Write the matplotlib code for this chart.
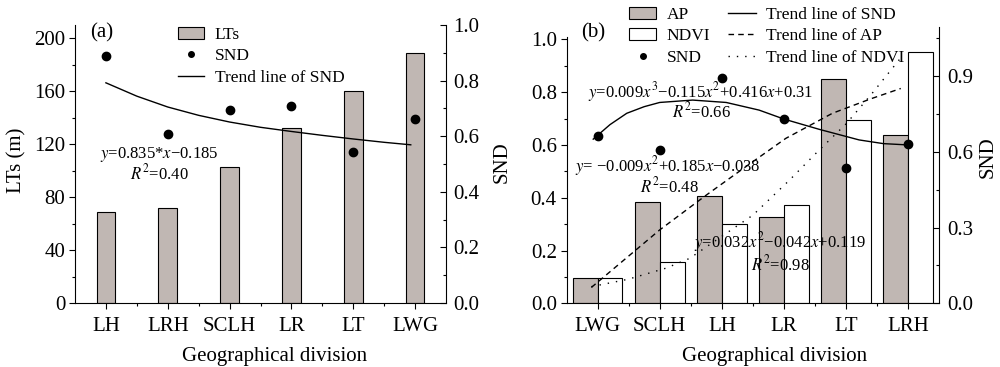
import numpy as np
import matplotlib
matplotlib.use('Agg')
import matplotlib.pyplot as plt
from matplotlib.patches import Patch
from matplotlib.lines import Line2D
from matplotlib.ticker import MultipleLocator, FixedLocator

plt.rcParams['font.family'] = ['Liberation Serif', 'DejaVu Serif']
plt.rcParams['mathtext.fontset'] = 'stix'

gray = '#c0b7b3'

# panel (a)
cats_a = ['LH', 'LRH', 'SCLH', 'LR', 'LT', 'LWG']
lts = [69, 72, 103, 132, 160.5, 188.5]
snd_a = [0.89, 0.608, 0.695, 0.709, 0.542, 0.663]
trend_a_x = [1, 1.5, 2, 2.5, 3, 3.5, 4, 4.5, 5, 5.5, 5.93]
trend_a_y = [0.792, 0.744, 0.705, 0.675, 0.651, 0.632, 0.617, 0.603, 0.590, 0.578, 0.569]

# panel (b)
cats_b = ['LWG', 'SCLH', 'LH', 'LR', 'LT', 'LRH']
ap = [0.095, 0.385, 0.406, 0.326, 0.85, 0.638]
ndvi = [0.095, 0.158, 0.30, 0.374, 0.694, 0.953]
snd_b = [0.634, 0.58, 0.852, 0.698, 0.514, 0.603]
trend_snd_x = [0.93, 1.2, 1.47, 1.75, 2.0, 2.53, 3.07, 3.6, 4.0, 4.57, 5.21, 5.6, 6.0]
trend_snd_y = [0.622, 0.677, 0.72, 0.745, 0.761, 0.77, 0.761, 0.732, 0.698, 0.659, 0.619, 0.605, 0.6]
trend_ap_x = [0.9, 2.0, 2.75, 3.4, 4.03, 4.78, 5.4, 5.88]
trend_ap_y = [0.06, 0.278, 0.41, 0.52, 0.625, 0.72, 0.775, 0.814]
trend_ndvi_x = [0.9, 1.49, 2.1, 2.48, 3.07, 3.5, 4.09, 4.5, 5.0, 5.4, 5.88]
trend_ndvi_y = [0.063, 0.091, 0.133, 0.17, 0.265, 0.334, 0.467, 0.565, 0.68, 0.79, 0.93]

fig = plt.figure(figsize=(10, 3.67), dpi=100)
fs = 15
afs = 12


def style_axes(ax, ax2):
    ax.spines['top'].set_visible(False)
    ax.spines['right'].set_visible(False)
    for s in ['top', 'left', 'bottom']:
        ax2.spines[s].set_visible(False)
    ax.tick_params(axis='both', which='major', direction='out', length=4, width=0.8, labelsize=fs)
    ax.tick_params(axis='both', which='minor', direction='out', length=2, width=0.8)
    ax.tick_params(axis='x', which='major', pad=6)
    ax.tick_params(axis='y', which='major', pad=3)
    ax2.tick_params(axis='y', which='major', direction='in', length=4, width=0.8, labelsize=fs, pad=5.5)
    ax2.tick_params(axis='y', which='minor', direction='in', length=2, width=0.8)
    ax.set_xlim(0.5, 6.5)
    ax.xaxis.set_minor_locator(FixedLocator([1.5, 2.5, 3.5, 4.5, 5.5]))


# ---- (a)
ax = fig.add_axes([0.075, 0.1744, 0.371, 0.7575])
ax2 = ax.twinx()
x = np.arange(1, 7)
ax.bar(x, lts, width=0.3, color=gray, edgecolor='black', linewidth=0.8)
ax2.plot(x, snd_a, 'o', color='black', markersize=6)
ax2.plot(trend_a_x, trend_a_y, '-', color='black', linewidth=1)
ax.set_ylim(0, 210)
ax2.set_ylim(0, 1.0)
ax.yaxis.set_major_locator(MultipleLocator(40))
ax.yaxis.set_minor_locator(MultipleLocator(20))
ax2.yaxis.set_major_locator(MultipleLocator(0.2))
ax2.yaxis.set_minor_locator(MultipleLocator(0.1))
ax2.set_yticklabels(['%.1f' % v for v in ax2.get_yticks()])
style_axes(ax, ax2)
ax.set_xticks(x)
ax.set_xticklabels(cats_a)
ax.set_ylabel('LTs (m)', fontsize=fs)
ax2.set_ylabel('SND', fontsize=fs)
ax.set_xlabel('Geographical division', fontsize=fs)
ax.yaxis.label.set_va('center')
ax2.yaxis.label.set_va('center')
ax.xaxis.label.set_va('center')
ax.yaxis.set_label_coords(-0.158, 0.514)
ax2.yaxis.set_label_coords(1.150, 0.508)
ax.xaxis.set_label_coords(0.538, -0.193)
ax.text(0.072, 0.970, '(a)', transform=ax.transAxes, fontsize=fs, ha='center', va='center')
ax2.text(1.855, 0.533, r'$y$=0.835*$x$−0.185', fontsize=afs, ha='center', va='center')
ax2.text(1.87, 0.467, r'$R^2$=0.40', fontsize=afs, ha='center', va='center')
handles_a = [Patch(facecolor=gray, edgecolor='black', linewidth=0.8),
             Line2D([], [], marker='o', color='black', linestyle='none', markersize=4),
             Line2D([], [], color='black', linewidth=1)]
ax2.legend(handles_a, ['LTs', 'SND', 'Trend line of SND'], loc='upper left',
           bbox_to_anchor=(0.255, 1.025), frameon=False, fontsize=afs + 0.5,
           handlelength=1.5, handletextpad=0.6, labelspacing=0.3, borderpad=0)

# ---- (b)
bx = fig.add_axes([0.5665, 0.1736, 0.3728, 0.7536])
bx2 = bx.twinx()
bx.bar(x - 0.2, ap, width=0.4, color=gray, edgecolor='black', linewidth=0.8, label='AP')
bx.bar(x + 0.2, ndvi, width=0.4, color='white', edgecolor='black', linewidth=0.8, label='NDVI')
bx.plot(x, snd_b, 'o', color='black', markersize=6)
bx.plot(trend_snd_x, trend_snd_y, '-', color='black', linewidth=1)
bx.plot(trend_ap_x, trend_ap_y, color='black', linewidth=1, linestyle=(0, (4, 3)))
bx.plot(trend_ndvi_x, trend_ndvi_y, color='black', linewidth=1, linestyle=(0, (1, 5)))
bx.set_ylim(0, 1.048)
bx2.set_ylim(0, 1.095)
bx.spines['left'].set_bounds(0, 1.01)
bx.yaxis.set_major_locator(FixedLocator([0, 0.2, 0.4, 0.6, 0.8, 1.0]))
bx.yaxis.set_minor_locator(FixedLocator([0.1, 0.3, 0.5, 0.7, 0.9]))
bx.set_yticklabels(['0.0', '0.2', '0.4', '0.6', '0.8', '1.0'])
bx2.yaxis.set_major_locator(FixedLocator([0, 0.3, 0.6, 0.9]))
bx2.yaxis.set_minor_locator(FixedLocator([0.15, 0.45, 0.75, 1.05]))
bx2.set_yticklabels(['0.0', '0.3', '0.6', '0.9'])
style_axes(bx, bx2)
bx.set_xticks(x)
bx.set_xticklabels(cats_b)
bx2.set_ylabel('SND', fontsize=fs)
bx.set_xlabel('Geographical division', fontsize=fs)
bx2.yaxis.label.set_va('center')
bx.xaxis.label.set_va('center')
bx2.yaxis.set_label_coords(1.131, 0.53)
bx.xaxis.set_label_coords(0.558, -0.194)
bx.text(0.072, 0.976, '(b)', transform=bx.transAxes, fontsize=fs, ha='center', va='center')
bx.text(2.655, 0.802, r'$y$=0.009$x^3$−0.115$x^2$+0.416$x$+0.31', fontsize=afs, ha='center', va='center')
bx.text(2.67, 0.726, r'$R^2$=0.66', fontsize=afs, ha='center', va='center')
bx.text(2.13, 0.521, r'$y$= −0.009$x^2$+0.185$x$−0.038', fontsize=afs, ha='center', va='center')
bx.text(2.15, 0.442, r'$R^2$=0.48', fontsize=afs, ha='center', va='center')
bx.text(3.94, 0.232, r'$y$=0.032$x^2$−0.042$x$+0.119', fontsize=afs, ha='center', va='center')
bx.text(3.94, 0.147, r'$R^2$=0.98', fontsize=afs, ha='center', va='center')
handles_b = [Patch(facecolor=gray, edgecolor='black', linewidth=0.8),
             Patch(facecolor='white', edgecolor='black', linewidth=0.8),
             Line2D([], [], marker='o', color='black', linestyle='none', markersize=4),
             Line2D([], [], color='black', linewidth=1),
             Line2D([], [], color='black', linewidth=1, linestyle=(0, (4, 3))),
             Line2D([], [], color='black', linewidth=1, linestyle=(0, (1, 5)))]
labels_b = ['AP', 'NDVI', 'SND', 'Trend line of SND', 'Trend line of AP', 'Trend line of NDVI']
bx2.legend(handles_b, labels_b, loc='upper left', ncol=2,
           bbox_to_anchor=(0.62, 1.005), bbox_transform=fig.transFigure,
           frameon=False, fontsize=afs + 0.5, handlelength=1.6, handletextpad=0.6,
           labelspacing=0.3, columnspacing=1.0, borderpad=0)

fig.savefig('out.png', dpi=100)
